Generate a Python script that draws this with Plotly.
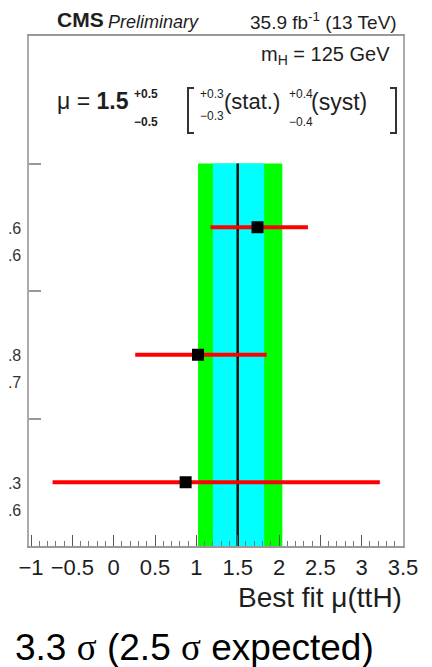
import plotly.graph_objects as go

# ---- data ----
mu_best = 1.5
tot_band = [1.02, 2.04]     # green band (total unc.)
stat_band = [1.20, 1.82]    # cyan band (stat. unc.)
band_y = [0, 3]

chan_y = [2.5, 1.5, 0.5]
chan_mu = [1.74, 1.02, 0.87]
chan_err_hi = [0.61, 0.83, 2.35]
chan_err_lo = [0.57, 0.76, 1.61]
chan_lab_hi = ["0.6", "0.8", "2.3"]
chan_lab_lo = ["0.6", "0.7", "1.6"]

xtick_vals = [-1, -0.5, 0, 0.5, 1, 1.5, 2, 2.5, 3, 3.5]
xtick_text = ["\u22121", "\u22120.5", "0", "0.5", "1", "1.5", "2", "2.5", "3", "3.5"]
ytick_vals = [1, 2, 3]

FONT = "Liberation Sans, Arial, sans-serif"
TXT = "#1e1e1e"

# the page body has an 8px margin; lay out in page pixels and shift
OFF = 8
W, H = 432 - OFF, 667 - OFF
PL, PR, PT, PB = 29, 403, 36, 546          # plot frame in page pixels
L, T = PL - OFF, PT - OFF
PW, PH = PR - PL, PB - PT
R, B = W - L - PW, H - T - PH


def px(x):
    return (x - PL) / PW


def py(y):
    return (PB - y) / PH


fig = go.Figure()

# bands
fig.add_trace(go.Scatter(
    x=[tot_band[0], tot_band[1], tot_band[1], tot_band[0], tot_band[0]],
    y=[band_y[0], band_y[0], band_y[1], band_y[1], band_y[0]],
    fill="toself", fillcolor="#00ff00", line=dict(width=0), mode="lines",
    hoverinfo="skip", showlegend=False))
fig.add_trace(go.Scatter(
    x=[stat_band[0], stat_band[1], stat_band[1], stat_band[0], stat_band[0]],
    y=[band_y[0], band_y[0], band_y[1], band_y[1], band_y[0]],
    fill="toself", fillcolor="#00ffff", line=dict(width=0), mode="lines",
    hoverinfo="skip", showlegend=False))
# best fit line
fig.add_trace(go.Scatter(
    x=[mu_best, mu_best], y=band_y, mode="lines",
    line=dict(color="#111111", width=2.5), showlegend=False))
# channels
fig.add_trace(go.Scatter(
    x=chan_mu, y=chan_y, mode="markers",
    marker=dict(symbol="square", size=12, color="black"),
    error_x=dict(type="data", symmetric=False, array=chan_err_hi,
                 arrayminus=chan_err_lo, color="#ff0000", thickness=4, width=0),
    showlegend=False))

fig.update_xaxes(
    range=[-1.025, 3.5], tickvals=xtick_vals, ticktext=xtick_text,
    ticks="inside", ticklen=11, tickwidth=1, tickcolor="#555",
    minor=dict(dtick=0.1, ticks="inside", ticklen=5, tickcolor="#777"),
    showline=True, linecolor="#999", linewidth=2, mirror=True,
    showgrid=False, zeroline=False, automargin=False, tickangle=0,
    tickfont=dict(family=FONT, size=22, color=TXT),
    ticklabelstandoff=1)
fig.update_yaxes(
    range=[0, 4], tickvals=ytick_vals, showticklabels=False,
    ticks="inside", ticklen=12, tickcolor="#999", tickwidth=1.5,
    showline=True, linecolor="#aaa", linewidth=2, mirror=True,
    showgrid=False, zeroline=False, automargin=False)

ann = []


def A(x, y, text, size, xanchor="left", family=FONT, yanchor="middle", color=TXT):
    ann.append(dict(x=px(x), y=py(y), xref="paper", yref="paper", text=text,
                    showarrow=False, xanchor=xanchor, yanchor=yanchor,
                    font=dict(family=family, size=size, color=color)))


A(55, 20, "<b>CMS</b>", 21)
A(106, 22, "<i>Preliminary</i>", 18)
A(399, 21, "35.9 fb<sup>-1</sup> (13 TeV)", 19, xanchor="right")
A(392, 56, "m<sub>H</sub> = 125 GeV", 20, xanchor="right")
A(55, 101, "\u03bc = <b>1.5</b>", 23)
A(132, 94, "<b>+0.5</b>", 12)
A(132, 122, "<b>\u22120.5</b>", 12)
A(198, 94, "+0.3", 12)
A(198, 116, "\u22120.3", 12)
A(222, 102, "(stat.)", 22)
A(287, 94, "+0.4", 12)
A(287, 122, "\u22120.4", 12)
A(309, 102, "(syst)", 23)

for yv, lh, ll in zip(chan_y, chan_lab_hi, chan_lab_lo):
    ypix = PB - yv / 4 * PH
    A(23, ypix + 1, lh, 16, xanchor="right", color="#333")
    A(23, ypix + 28, ll, 16, xanchor="right", color="#333")

A(404, 597, "Best fit \u03bc(ttH)", 28, xanchor="right")
A(13, 647, "3.3 <span style='font-family:Liberation Serif'>\u03c3</span> (2.5 "
           "<span style='font-family:Liberation Serif'>\u03c3</span> expected)",
  37, color="black")

shapes = []
for xv, xs in [(188, 194), (396, 390)]:
    shapes.append(dict(type="path", xref="paper", yref="paper",
                       path=f"M {px(xs)},{py(88)} L {px(xv)},{py(88)} L {px(xv)},{py(133)} L {px(xs)},{py(133)}",
                       line=dict(color="#333", width=2)))

fig.update_layout(
    width=W, height=H, margin=dict(l=L, r=R, t=T, b=B, pad=0),
    paper_bgcolor="white", plot_bgcolor="white",
    annotations=ann, shapes=shapes, showlegend=False)

fig.write_html("out.html")
